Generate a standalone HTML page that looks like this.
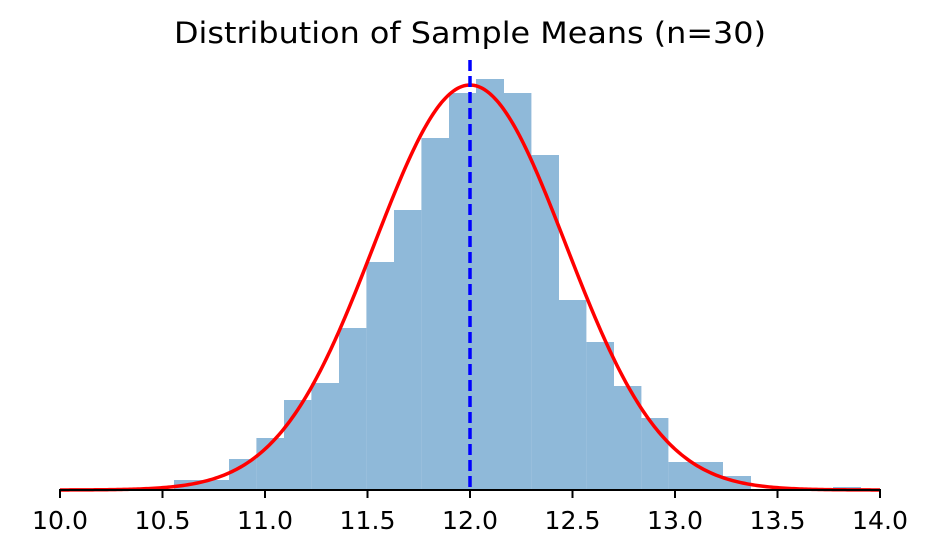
<!DOCTYPE html>
<html><head><meta charset="utf-8"><style>body{margin:0;background:#fff}</style></head>
<body>
<svg width="940" height="554" xmlns="http://www.w3.org/2000/svg" font-family="DejaVu Sans, Liberation Sans, sans-serif">
<rect width="940" height="554" fill="#fff"/>
<g fill="#8fb9d9">
<rect x="174" y="480" width="55" height="10"/>
<rect x="229" y="459" width="27.4" height="31"/>
<rect x="256.4" y="438" width="27.6" height="52"/>
<rect x="284" y="400" width="27.4" height="90"/>
<rect x="311.4" y="383" width="27.6" height="107"/>
<rect x="339" y="328" width="27.4" height="162"/>
<rect x="366.4" y="262" width="27.6" height="228"/>
<rect x="394" y="210" width="27.4" height="280"/>
<rect x="421.4" y="138" width="27.6" height="352"/>
<rect x="449" y="93" width="27" height="397"/>
<rect x="476" y="79" width="28" height="411"/>
<rect x="504" y="93" width="27.4" height="397"/>
<rect x="531.4" y="155" width="27.6" height="335"/>
<rect x="559" y="300" width="27.4" height="190"/>
<rect x="586.4" y="342" width="27.6" height="148"/>
<rect x="614" y="386" width="27.4" height="104"/>
<rect x="641.4" y="418" width="27" height="72"/>
<rect x="668.4" y="462" width="54.6" height="28"/>
<rect x="723" y="476" width="28" height="14"/>
<rect x="833" y="487" width="28" height="3"/>
</g>
<path id="c" fill="none" stroke="#ff0000" stroke-width="3.5"/>
<line x1="470" y1="60" x2="470" y2="490" stroke="#0000ff" stroke-width="3.5" stroke-dasharray="11,5"/>
<line x1="59" y1="490" x2="881" y2="490" stroke="#000" stroke-width="2"/>
<g stroke="#000" stroke-width="2">
<line x1="60" y1="490" x2="60" y2="498"/><line x1="162.5" y1="490" x2="162.5" y2="498"/><line x1="265" y1="490" x2="265" y2="498"/><line x1="367.5" y1="490" x2="367.5" y2="498"/><line x1="470" y1="490" x2="470" y2="498"/><line x1="572.5" y1="490" x2="572.5" y2="498"/><line x1="675" y1="490" x2="675" y2="498"/><line x1="777.5" y1="490" x2="777.5" y2="498"/><line x1="880" y1="490" x2="880" y2="498"/>
</g>
<g font-size="25" text-anchor="middle" fill="#000">
<text x="60" y="529" textLength="56" lengthAdjust="spacingAndGlyphs">10.0</text><text x="162.5" y="529" textLength="56" lengthAdjust="spacingAndGlyphs">10.5</text><text x="265" y="529" textLength="56" lengthAdjust="spacingAndGlyphs">11.0</text><text x="367.5" y="529" textLength="56" lengthAdjust="spacingAndGlyphs">11.5</text><text x="470" y="529" textLength="56" lengthAdjust="spacingAndGlyphs">12.0</text><text x="572.5" y="529" textLength="56" lengthAdjust="spacingAndGlyphs">12.5</text><text x="675" y="529" textLength="56" lengthAdjust="spacingAndGlyphs">13.0</text><text x="777.5" y="529" textLength="56" lengthAdjust="spacingAndGlyphs">13.5</text><text x="880" y="529" textLength="56" lengthAdjust="spacingAndGlyphs">14.0</text>
</g>
<text x="470" y="43" font-size="29" text-anchor="middle" fill="#000" textLength="592" lengthAdjust="spacingAndGlyphs">Distribution of Sample Means (n=30)</text>
<script>
var d="",s=0.467;
for(var i=0;i<=400;i++){var x=10+i*0.01;var y=490-405*Math.exp(-0.5*Math.pow((x-12)/s,2));d+=(i?"L":"M")+(60+(x-10)*205).toFixed(2)+","+y.toFixed(2);}
document.getElementById("c").setAttribute("d",d);
</script>
</svg>
</body></html>
